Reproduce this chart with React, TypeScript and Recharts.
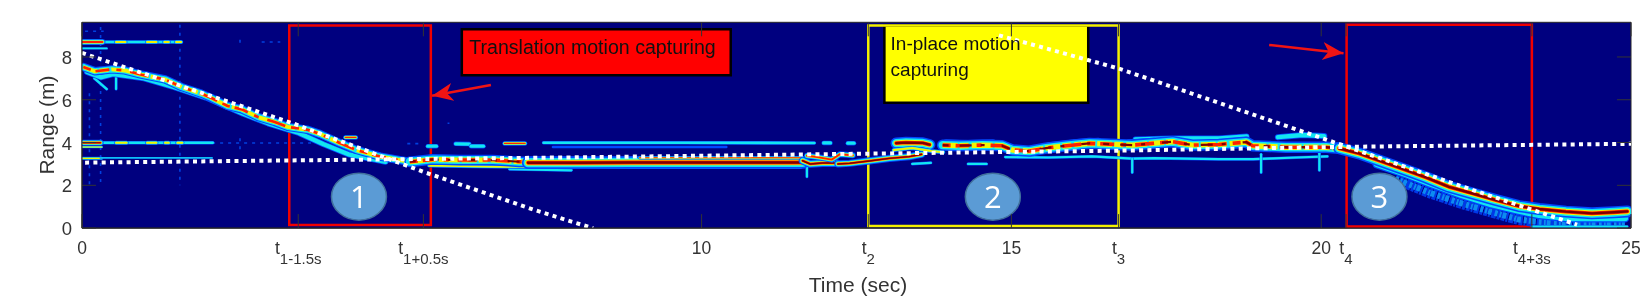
import { ComposedChart, Line, XAxis, YAxis, CartesianGrid, ReferenceArea, ReferenceDot } from 'recharts'

type Pt = [number, number]

// axis ticks
const TIME_TICKS = [0, 3.49, 5.51, 10, 12.69, 15, 16.73, 20, 20.4, 23.4, 25]
const TIME_LABELS: [string, string][] = [
  ['0', ''], ['t', '1-1.5s'], ['t', '1+0.5s'], ['10', ''], ['t', '2'], ['15', ''],
  ['t', '3'], ['20', ''], ['t', '4'], ['t', '4+3s'], ['25', ''],
]
const RANGE_TICKS = [0, 2, 4, 6, 8]

// moving target
const trackOut: Pt[] = [[0.02, 7.53], [0.21, 7.33], [0.48, 7.42], [0.69, 7.37], [0.96, 7.17], [1.34, 6.95], [1.61, 6.59], [1.93, 6.28], [2.09, 6.08], [2.35, 5.71], [2.58, 5.55], [2.84, 5.19], [3.11, 4.96], [3.32, 4.73], [3.65, 4.59], [3.84, 4.4], [4.16, 3.98], [4.43, 3.65], [4.81, 3.34], [5.29, 3.1]]
const trackOutLow: Pt[] = [[0.08, 7.3], [0.3, 7.05], [0.5, 7.2], [1.0, 7.0], [1.5, 6.58], [2.0, 6.1], [2.6, 5.35], [3.0, 4.9], [3.5, 4.45], [3.9, 3.92], [4.3, 3.45], [4.9, 3.1]]
const trackStill: Pt[] = [[5.29, 3.1], [5.66, 3.21], [6.1, 3.18], [6.63, 3.18], [7.06, 3.1], [8.03, 3.09]]
const trackStillBand: Pt[] = [[7.2, 3.06], [8.03, 3.06], [8.84, 3.07], [11.63, 3.07]]
const trackStillTop: Pt[] = [[9.0, 3.29], [9.65, 3.29], [11.63, 3.29]]
const trackStillLow: Pt[] = [[5.6, 2.92], [6.6, 2.87], [8.03, 2.85], [9.7, 2.85], [11.6, 2.85]]
const echoUpper: Pt[] = [[7.45, 3.99], [8.03, 3.99], [9.65, 3.99], [11.82, 3.98]]
const echoUpperThin: Pt[] = [[7.6, 3.79], [8.03, 3.79], [10.4, 3.79]]
const moveMess1: Pt[] = [[11.63, 3.15], [11.75, 3.0], [11.95, 3.04], [12.18, 3.04]]
const moveMess2: Pt[] = [[11.7, 3.38], [11.87, 3.32], [12.1, 3.2], [12.23, 3.45], [12.44, 3.4]]
const moveMess3: Pt[] = [[12.2, 3.0], [12.39, 3.03], [12.71, 3.14], [13.03, 3.26], [13.35, 3.34], [13.55, 3.45]]
const topBlob: Pt[] = [[13.14, 3.97], [13.3, 4.0], [13.57, 3.98], [13.68, 3.9]]
const topBlobLow: Pt[] = [[13.1, 3.65], [13.4, 3.74], [13.7, 3.6], [13.9, 3.55]]
const stillTarget: Pt[] = [[13.89, 3.88], [14.16, 3.85], [14.54, 3.88], [14.85, 3.85], [15.02, 3.65], [15.29, 3.6], [15.56, 3.74], [15.89, 3.85], [16.26, 3.96], [16.69, 3.91], [16.95, 3.88], [17.28, 3.96], [17.6, 4.04], [17.92, 3.88], [18.35, 3.91], [18.79, 4.02], [18.89, 3.85], [19.43, 3.78], [20.08, 3.78], [20.29, 3.73]]
const stillWarm: Pt[][] = [[[13.95, 3.98], [14.3, 3.95], [14.7, 3.98]], [[15.6, 3.85], [16.0, 3.98], [16.4, 4.05]], [[16.9, 3.98], [17.3, 4.05]], [[17.65, 4.05], [17.9, 3.95]], [[18.4, 4.0], [18.8, 4.1]]]
const trackBack: Pt[] = [[20.29, 3.73], [20.61, 3.49], [20.94, 3.15], [21.37, 2.71], [21.69, 2.37], [22.06, 1.93], [22.43, 1.63], [22.82, 1.31], [23.19, 1.03], [23.52, 0.89], [23.95, 0.77], [24.37, 0.69], [24.73, 0.74], [24.94, 0.78]]
const backSmear: Pt[] = [[20.9, 3.0], [21.4, 2.5], [21.75, 2.1], [22.27, 1.55], [22.75, 1.12], [23.19, 0.82], [23.52, 0.62], [24.0, 0.47], [24.9, 0.47]]
const backDeep: Pt[] = [[21.2, 2.3], [21.75, 1.65], [22.27, 1.15], [22.75, 0.75], [23.19, 0.4], [23.5, 0.3], [24.0, 0.22], [24.9, 0.25]]
const floorLine: Pt[] = [[23.4, 0.07], [24.94, 0.07]]
const stillHalo: Pt[] = [[14.9, 3.32], [15.6, 3.3], [16.3, 3.35], [16.95, 3.25], [17.3, 3.27], [18.35, 3.22], [18.9, 3.22], [19.6, 3.3], [20.1, 3.35]]
const stillCrest: Pt[] = [[17.0, 4.15], [17.6, 4.2], [18.35, 4.2], [18.8, 4.3]]
const stillCrest2: Pt[] = [[19.3, 4.25], [19.7, 4.35], [20.05, 4.3]]

// static clutter
const clutter87: Pt[] = [[0, 8.7], [0.3, 8.7], [0.4, 8.7], [1.58, 8.7]]
const clutter87Hot: Pt[] = [[0, 8.7], [0.33, 8.7]]
const clutter84: Pt[] = [[0, 8.4], [0.4, 8.4]]
const clutter40: Pt[] = [[0, 3.99], [2.11, 3.99]]
const clutter40Hot: Pt[] = [[0.02, 3.99], [0.3, 3.99]]
const clutter38: Pt[] = [[0, 3.79], [0.32, 3.79]]
const clutter32: Pt[] = [[0, 3.26], [0.32, 3.26]]
const clutter32Thin: Pt[] = [[0.3, 3.28], [2.1, 3.28]]
const blobs87: Pt[][] = [[[0.55, 8.7], [0.7, 8.7]], [[1.05, 8.7], [1.2, 8.7]], [[1.33, 8.7], [1.4, 8.7]], [[1.52, 8.7], [1.6, 8.7]]]
const blobs40: Pt[][] = [[[0.55, 3.99], [0.72, 3.99]], [[1.05, 3.99], [1.2, 3.99]], [[1.34, 3.99], [1.4, 3.99]], [[1.54, 3.99], [1.62, 3.99]]]
const blobsNearStill: Pt[][] = [[[4.25, 4.24], [4.42, 4.24]], [[6.03, 3.94], [6.25, 3.93]], [[6.28, 3.83], [6.48, 3.83]], [[6.82, 3.96], [7.15, 3.96]], [[5.58, 3.83], [5.72, 3.83]], [[12.36, 3.97], [12.46, 3.97]], [[11.97, 3.98], [12.08, 3.98]]]
const blobsBelow: Pt[][] = [[[0.2, 7.0], [0.4, 6.5]], [[0.55, 7.1], [0.55, 6.5]], [[14.3, 3.0], [14.6, 3.0]], [[16.95, 3.25], [16.95, 2.6]], [[19.03, 3.45], [19.03, 2.6]], [[19.97, 3.5], [19.97, 2.7]], [[11.7, 2.85], [11.7, 2.4]], [[13.4, 3.0], [13.7, 3.05]], [[6.9, 2.75], [7.9, 2.7]]]
const blueStreaks: Pt[][] = [[[1.58, 9.5], [1.58, 2.0]], [[0.3, 9.4], [0.3, 2.0]], [[0.12, 6.3], [0.12, 2.0]], [[2.55, 8.8], [2.55, 8.5]], [[2.55, 4.2], [2.55, 3.6]], [[0.05, 9.2], [0.35, 9.2]], [[2.1, 3.98], [3.7, 3.98]], [[2.9, 8.7], [3.2, 8.7]], [[5.9, 4.9], [5.93, 4.9]], [[5.25, 3.95], [5.45, 3.95]]]

// dotted guide lines
const guideFlat: Pt[] = [[0.05, 3.06], [7.73, 3.3], [12.69, 3.48], [16.73, 3.62], [20.41, 3.8], [25, 3.94]]
const guideIn: Pt[] = [[0, 8.19], [3.4, 4.9], [5.5, 2.64], [7.3, 0.85], [7.9, 0.3], [8.25, 0]]
const guideBack: Pt[] = [[14.8, 9.01], [16.73, 7.46], [20.41, 3.81], [22.2, 2.02], [24.13, 0.16]]

// call-outs
const arrowOut: Pt[] = [[6.6, 6.69], [5.65, 6.19]]
const arrowBack: Pt[] = [[19.16, 8.56], [20.36, 8.17]]

const WIDTH = 1650
const HEIGHT = 298
const PLOT_LEFT = 82
const PLOT_RIGHT = 1631
const PLOT_TOP = 22.3
const PLOT_BOTTOM = 228.1
const TICK_LEN = 14

const HEAT = ['#0048ff', '#12e6f0', '#f4f400', '#ff2200', '#7f0000']
const GROW = [3.0, 2.2, 1.4, 0.95, 0.6]

const toRows = (pts: Pt[]) => pts.map(([t, r]) => ({ t, r }))

// one ridge of the map, drawn as stacked strokes from cold to hot.
// patchy ridges break the hot layers up so they read as blobs
function ridge(id: string, pts: Pt[], peak: number, w: number, patchy = false) {
  const rows = toRows(pts)
  const dash = ['', '', '15 2 9 3 21 2', '8 5 14 7 5 9 19 6', '6 11 12 9 4 17 9 13']
  return HEAT.slice(0, peak).map((color, i) => (
    <Line
      key={`${id}-${i}`}
      className="heat"
      data={rows}
      dataKey="r"
      type="linear"
      stroke={color}
      strokeWidth={w * GROW[i]}
      strokeDasharray={patchy ? dash[i] : undefined}
      strokeLinecap={patchy && i >= 2 ? 'butt' : 'round'}
      strokeLinejoin="round"
      dot={false}
      activeDot={false}
      legendType="none"
      isAnimationActive={false}
    />
  ))
}

// dashes along a ridge: hot spots, or stripes when the stroke is wide
function spots(id: string, pts: Pt[], color: string, w: number, dash: string) {
  return (
    <Line
      key={id}
      className="heat"
      data={toRows(pts)}
      dataKey="r"
      type="linear"
      stroke={color}
      strokeWidth={w}
      strokeDasharray={dash}
      dot={false}
      activeDot={false}
      isAnimationActive={false}
    />
  )
}

function dotted(id: string, pts: Pt[]) {
  return (
    <Line
      key={id}
      data={toRows(pts)}
      dataKey="r"
      type="linear"
      stroke="#fff"
      strokeWidth={4}
      strokeDasharray="4 4.3"
      dot={false}
      activeDot={false}
      isAnimationActive={false}
    />
  )
}

function arrow(id: string, pts: Pt[]) {
  return (
    <Line
      key={id}
      data={toRows(pts)}
      dataKey="r"
      type="linear"
      stroke="#f01414"
      strokeWidth={2.5}
      markerEnd="url(#redHead)"
      dot={false}
      activeDot={false}
      isAnimationActive={false}
    />
  )
}

const TimeTick = ({ x, index }: any) => {
  const [main, sub] = TIME_LABELS[index] ?? ['', '']
  return (
    <g>
      <line x1={x} x2={x} y1={PLOT_BOTTOM} y2={PLOT_BOTTOM - TICK_LEN} stroke="#333" />
      <line x1={x} x2={x} y1={PLOT_TOP} y2={PLOT_TOP + TICK_LEN} stroke="#333" />
      <text x={x} y={254} textAnchor="middle" fontSize={17.5} fill="#333" fontFamily="Liberation Sans">
        <tspan>{main}</tspan>
        {sub && <tspan dy={10} fontSize={15}>{sub}</tspan>}
      </text>
    </g>
  )
}

const RangeTick = ({ y, payload }: any) => (
  <g>
    <line x1={PLOT_LEFT} x2={PLOT_LEFT + TICK_LEN} y1={y} y2={y} stroke="#333" />
    <line x1={PLOT_RIGHT - TICK_LEN} x2={PLOT_RIGHT} y1={y} y2={y} stroke="#333" />
    <text x={72} y={y + 7} textAnchor="end" fontSize={18.5} fill="#333" fontFamily="Liberation Sans">{payload.value}</text>
  </g>
)

const Badge = ({ cx, cy, text }: any) => (
  <g>
    <ellipse cx={cx} cy={cy} rx={27.5} ry={23.5} fill="#5b9bd5" stroke="#41719c" strokeWidth={1.5} />
    <text x={cx} y={cy + 11} textAnchor="middle" fontSize={31} fill="#fff" fontFamily="Open Sans">{text}</text>
  </g>
)

const Note = ({ cx, cy, text, size }: any) => (
  <text x={cx} y={cy} fontSize={size} fill="#111" fontFamily="Liberation Sans">{text}</text>
)

export default function App() {
  return (
    <div style={{ position: 'fixed', left: 0, top: 0 }}>
      <style>{'.heat{filter:blur(0.75px)}'}</style>
      <ComposedChart
        width={WIDTH}
        height={HEIGHT}
        margin={{ top: PLOT_TOP, right: WIDTH - PLOT_RIGHT, bottom: 0, left: 0 }}
      >
        <defs>
          <marker id="redHead" markerUnits="userSpaceOnUse" markerWidth="24" markerHeight="20" refX="21" refY="9" orient="auto">
            <path d="M21 9 L0 0 L6 9 L0 18 Z" fill="#f01414" />
          </marker>
        </defs>
        <CartesianGrid horizontal={false} vertical={false} fill="#00007f" fillOpacity={1} stroke="none" />
        <XAxis
          type="number"
          dataKey="t"
          domain={[0, 25]}
          ticks={TIME_TICKS}
          interval={0}
          height={HEIGHT - PLOT_BOTTOM}
          tick={<TimeTick />}
          tickLine={false}
          axisLine={{ stroke: '#262626' }}
          allowDataOverflow
        />
        <YAxis
          type="number"
          domain={[0, 9.62]}
          ticks={RANGE_TICKS}
          interval={0}
          width={PLOT_LEFT}
          tick={<RangeTick />}
          tickLine={false}
          axisLine={{ stroke: '#262626' }}
          allowDataOverflow
        />

        {blueStreaks.map((s, i) => spots(`streak${i}`, s, '#0040e0', 1.6, '3 5'))}
        {spots('deepBlue', backDeep, '#0038e8', 11, '3 1 4 1 2 1 5 1')}
        {spots('deepCyan', backDeep, '#0c8cf0', 6, '3 2 2 1 4 3')}
        {ridge('smear', backSmear, 2, 3)}
        {ridge('floor', floorLine, 2, 0.9)}
        {ridge('halo', stillHalo, 2, 1)}
        {ridge('crest', stillCrest, 2, 1.8)}
        {ridge('crest2', stillCrest2, 2, 2)}
        {blobsBelow.map((s, i) => ridge(`below${i}`, s, 2, 1))}

        {ridge('c84', clutter84, 2, 0.8)}
        {ridge('c87', clutter87, 2, 1.2)}
        {ridge('c87hot', clutter87Hot, 4, 2)}
        {blobs87.map((s, i) => ridge(`b87${i}`, s, 3, 1.4))}
        {ridge('c38', clutter38, 3, 0.8)}
        {ridge('c32', clutter32, 3, 1)}
        {ridge('c32t', clutter32Thin, 2, 0.6)}
        {ridge('c40', clutter40, 2, 1.2)}
        {ridge('c40hot', clutter40Hot, 5, 2)}
        {blobs40.map((s, i) => ridge(`b40${i}`, s, 3, 1.4))}
        {blobsNearStill.map((s, i) => ridge(`near${i}`, s, i === 0 || i === 3 ? 4 : 2, 1.5))}

        {ridge('outLow', trackOutLow, 2, 2)}
        {ridge('out', trackOut, 4, 2.8, true)}
        {ridge('echo', echoUpper, 2, 1.2)}
        {ridge('echoThin', echoUpperThin, 1, 0.8)}
        {ridge('stillLow', trackStillLow, 3, 1.2)}
        {ridge('still', trackStill, 5, 3.6, true)}
        {ridge('stillBand', trackStillBand, 5, 4.2)}
        {ridge('stillTop', trackStillTop, 4, 1.2)}
        {ridge('mess1', moveMess1, 5, 2.6)}
        {ridge('mess2', moveMess2, 4, 2)}
        {ridge('mess3', moveMess3, 5, 2.4)}
        {ridge('blob', topBlob, 5, 3.8)}
        {ridge('blobLow', topBlobLow, 3, 1.4)}
        {stillWarm.map((s, i) => ridge(`warm${i}`, s, 4, 2.4))}
        {ridge('target', stillTarget, 5, 3.8, true)}
        {ridge('back', trackBack, 5, 4)}

        {dotted('guideFlat', guideFlat)}
        {dotted('guideIn', guideIn)}

        <ReferenceArea x1={0} x2={25} y1={0} y2={9.62} fill="none" stroke="#262626" strokeWidth={1} />

        <ReferenceArea x1={6.13} x2={10.47} y1={7.15} y2={9.3} fill="#ff0000" fillOpacity={1} stroke="#000" strokeWidth={2.5} />
        <ReferenceArea x1={12.95} x2={16.24} y1={5.86} y2={9.47} fill="#ffff00" fillOpacity={1} stroke="#000" strokeWidth={2.5} />
        <ReferenceDot x={6.25} y={8.15} r={1} shape={(p: any) => <Note {...p} size={19.6} text="Translation motion capturing" />} />
        <ReferenceDot x={13.05} y={8.32} r={1} shape={(p: any) => <Note {...p} size={19} text="In-place motion" />} />
        <ReferenceDot x={13.05} y={7.12} r={1} shape={(p: any) => <Note {...p} size={19} text="capturing" />} />

        {dotted('guideBack', guideBack)}

        <ReferenceArea x1={3.345} x2={5.63} y1={0.15} y2={9.47} fill="none" stroke="#f00000" strokeWidth={2.5} />
        <ReferenceArea x1={12.69} x2={16.73} y1={0.1} y2={9.47} fill="none" stroke="#f4f000" strokeWidth={2.5} />
        <ReferenceArea x1={20.41} x2={23.4} y1={0.08} y2={9.5} fill="none" stroke="#f00000" strokeWidth={2.5} />

        {arrow('arrowOut', arrowOut)}
        {arrow('arrowBack', arrowBack)}

        <ReferenceDot x={4.47} y={1.47} r={1} shape={(p: any) => <Badge {...p} text="1" />} />
        <ReferenceDot x={14.7} y={1.47} r={1} shape={(p: any) => <Badge {...p} text="2" />} />
        <ReferenceDot x={20.94} y={1.47} r={1} shape={(p: any) => <Badge {...p} text="3" />} />

        <text x={858} y={292} textAnchor="middle" fontSize={21} fill="#333" fontFamily="Liberation Sans">Time (sec)</text>
        <text x={0} y={0} transform="translate(54,125) rotate(-90)" textAnchor="middle" fontSize={21} fill="#333" fontFamily="Liberation Sans">Range (m)</text>
      </ComposedChart>
    </div>
  )
}
